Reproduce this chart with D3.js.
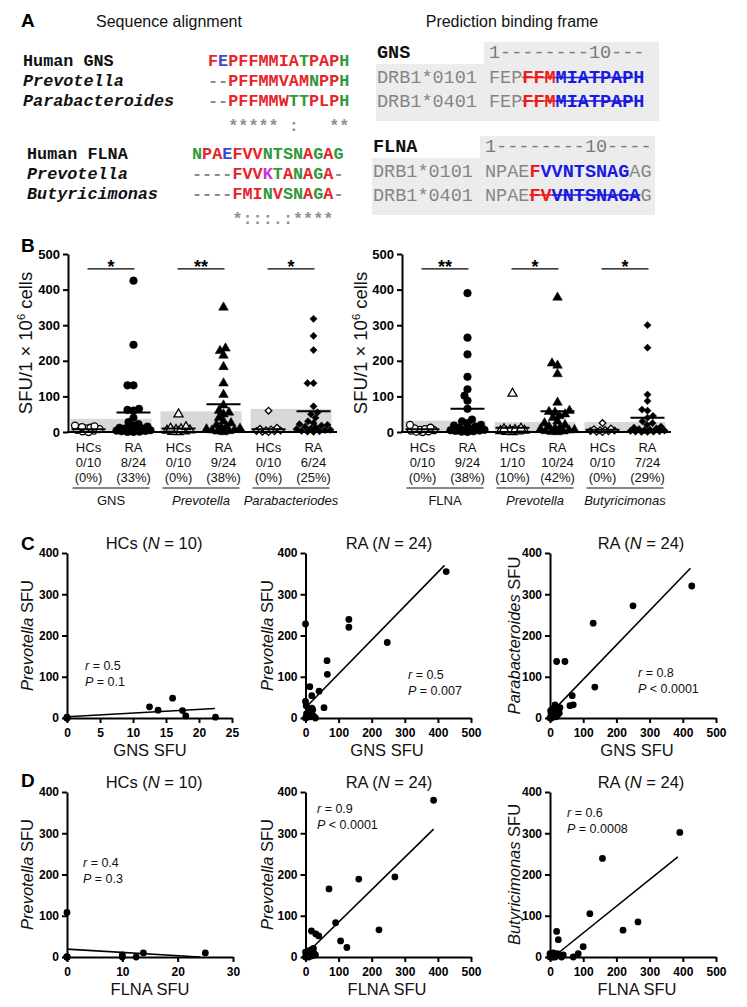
<!DOCTYPE html>
<html><head><meta charset="utf-8">
<script src="https://cdn.jsdelivr.net/npm/d3@7"></script>
<style>
body{margin:0;background:#fff;}
svg{display:block;}
</style></head><body>
<svg id="fig" width="747" height="1007"></svg>
<script>
// ================= DATA =================
// Panel A – sequence alignment
const alignGNSLabels = ["Human GNS", "Prevotella", "Parabacteroides"];
const alignGNSItalic = [false, true, true];
const alignGNSSeqs = ["FEPFFMMIATPAPH", "--PFFMMVAMNPPH", "--PFFMMWTTPLPH"];
const alignGNSCons = "  ***** :   **";
const alignFLNALabels = ["Human FLNA", "Prevotella", "Butyricimonas"];
const alignFLNAItalic = [false, true, true];
const alignFLNASeqs = ["NPAEFVVNTSNAGAG", "----FVVKTANAGA-", "----FMINVSNAGA-"];
const alignFLNACons = "    *:::.:****";
// Panel A – prediction binding frame
const frameAlleles = ["DRB1*0101", "DRB1*0401"];
const frameGNSRuler = "1--------10---";
const frameGNSSeq = "FEPFFMMIATPAPH";
const frameGNSRed = [[3, 6], [3, 6]];
const frameGNSBlue = [[6, 14], [6, 14]];
const frameGNSStrike = [[3, 13], [3, 13]];
const frameFLNARuler = "1--------10----";
const frameFLNASeq = "NPAEFVVNTSNAGAG";
const frameFLNARed = [[4, 5], [4, 6]];
const frameFLNABlue = [[5, 13], [6, 14]];
const frameFLNAStrike = [null, [4, 14]];

// Panel B – ELISpot SFU per 1e6 cells
const bLeftGroups = ["GNS", "Prevotella", "Parabacteriodes"];
const bLeftItalic = [false, true, true];
const bLeftShapes = ["circle", "triangle", "diamond"];
const bLeftHC = [
  [18, 16, 14, 12, 10, 8, 6, 4, 2, 0],
  [50, 14, 10, 8, 6, 5, 4, 2, 1, 0],
  [60, 12, 9, 7, 5, 4, 3, 2, 1, 0]
];
const bLeftRA = [
  [425, 245, 131, 131, 65, 62, 60, 40, 28, 22, 18, 15, 12, 10, 10, 8, 6, 5, 4, 3, 2, 1, 0, 0],
  [350, 235, 228, 215, 183, 137, 105, 75, 60, 55, 50, 40, 30, 25, 20, 15, 12, 10, 8, 6, 5, 3, 2, 0],
  [318, 270, 230, 137, 137, 72, 55, 50, 40, 30, 25, 22, 20, 18, 15, 12, 10, 8, 6, 5, 3, 2, 1, 0]
];
const bLeftHCMean = [8, 10, 8];
const bLeftRAMean = [55, 78, 58];
const bLeftCutoff = [37, 58, 65];
const bLeftSig = ["*", "**", "*"];
const bLeftHCFrac = ["0/10", "0/10", "0/10"];
const bLeftHCPct = ["(0%)", "(0%)", "(0%)"];
const bLeftRAFrac = ["8/24", "9/24", "6/24"];
const bLeftRAPct = ["(33%)", "(38%)", "(25%)"];

const bRightGroups = ["FLNA", "Prevotella", "Butyricimonas"];
const bRightItalic = [false, true, true];
const bRightShapes = ["circle", "triangle", "diamond"];
const bRightHC = [
  [20, 12, 10, 8, 6, 5, 4, 2, 1, 0],
  [108, 10, 8, 6, 5, 4, 3, 2, 1, 0],
  [25, 10, 8, 6, 5, 4, 3, 2, 1, 0]
];
const bRightRA = [
  [390, 265, 218, 155, 120, 102, 88, 65, 35, 30, 25, 20, 18, 15, 12, 10, 8, 6, 5, 4, 3, 2, 1, 0],
  [378, 193, 187, 163, 83, 60, 57, 55, 50, 45, 40, 30, 25, 20, 15, 12, 10, 8, 6, 5, 3, 2, 1, 0],
  [300, 237, 105, 87, 63, 60, 45, 40, 30, 25, 20, 15, 12, 10, 8, 6, 5, 4, 3, 2, 1, 1, 0, 0]
];
const bRightHCMean = [8, 12, 6];
const bRightRAMean = [65, 58, 40];
const bRightCutoff = [32, 28, 28];
const bRightSig = ["**", "*", "*"];
const bRightHCFrac = ["0/10", "1/10", "0/10"];
const bRightHCPct = ["(0%)", "(10%)", "(0%)"];
const bRightRAFrac = ["9/24", "10/24", "7/24"];
const bRightRAPct = ["(38%)", "(42%)", "(29%)"];
const bYTicks = [0, 100, 200, 300, 400, 500];

// Panels C & D – correlations [x SFU, y SFU]
const c1Pts = [[0,0],[0,0],[0,2],[0,0],[12.5,27],[13.8,19],[16,48],[17.5,18],[18,5],[22.5,2]];
const c1Fit = [[0,3],[22.4,23]];
const c2Pts = [[425,355],[0,228],[131,239],[131,220],[247,183],[65,139],[66,106],[13,76],[41,65],[19,54],[56,25],[0,40],[19,24],[8,15],[0,0],[5,2],[10,5],[15,3],[20,8],[25,4],[3,10],[30,0],[2,30],[22,20]];
const c2Fit = [[0,25],[420,370]];
const c3Pts = [[427,320],[250,272],[130,230],[135,75],[67,54],[60,30],[70,32],[15,32],[20,137],[45,137],[5,0],[10,5],[15,10],[20,15],[25,20],[8,22],[12,8],[18,3],[3,12],[0,0],[22,6],[28,12],[2,18],[30,25]];
const c3Fit = [[0,10],[423,363]];
const d1Pts = [[0,108],[0,0],[10,5],[10,0],[12.5,0],[13.8,10],[25,10],[0,0],[0,0],[0,0]];
const d1Fit = [[0,19],[24,0]];
const d2Pts = [[387,380],[71,165],[161,189],[270,194],[91,83],[222,66],[106,39],[125,23],[18,63],[31,56],[40,51],[24,21],[0,12],[5,5],[10,0],[15,8],[20,3],[25,10],[2,0],[8,15],[12,2],[30,5],[0,0],[18,18]];
const d2Fit = [[0,6],[387,310]];
const d3Pts = [[391,302],[158,239],[120,105],[265,85],[220,65],[100,25],[85,8],[70,0],[20,62],[25,42],[5,5],[10,10],[15,0],[0,0],[2,3],[8,0],[12,5],[18,2],[22,8],[30,3],[35,0],[40,5],[0,8],[5,0]];
const d3Fit = [[10,0],[385,243]];
const corrYTicks = [0, 100, 200, 300, 400];

// ================= DRAWING =================
const SANS = '"Liberation Sans", Arial, Helvetica, sans-serif';
const MONO = '"Liberation Mono", "Courier New", monospace';
const svg = d3.select("#fig");
svg.append("rect").attr("width", 747).attr("height", 1007).attr("fill", "#fff");

function clustal(c) {
  if ("AVFPMILW".includes(c)) return "#e8242a";
  if ("DE".includes(c)) return "#3a48d8";
  if ("RK".includes(c)) return "#d030d0";
  if ("STYHCNGQ".includes(c)) return "#2f9a3a";
  return "#8a8a8a";
}
function rich(g, x, y, parts, size, anchor, extra) {
  const t = g.append("text").attr("x", x).attr("y", y).attr("font-family", SANS)
    .attr("font-size", size).attr("text-anchor", anchor || "start").attr("fill", "#111");
  if (extra) extra(t);
  parts.forEach(p => t.append("tspan").attr("font-style", p[1] ? "italic" : "normal").text(p[0]));
  return t;
}
// panel letters
[["A", 21, 27], ["B", 21, 252], ["C", 21, 550], ["D", 21, 787]].forEach(d =>
  svg.append("text").attr("x", d[1]).attr("y", d[2]).attr("font-family", SANS)
    .attr("font-size", 19).attr("font-weight", "bold").text(d[0]));

// ---------- Panel A ----------
const gA = svg.append("g");
rich(gA, 169, 27, [["Sequence alignment", false]], 16, "middle");
rich(gA, 512, 27, [["Prediction binding frame", false]], 16, "middle");

function seqText(g, str, x0, y, cw, fs, colorFn, weight) {
  const t = g.append("text").attr("y", y).attr("font-family", MONO)
    .attr("font-size", fs).attr("font-weight", weight || "bold");
  str.split("").forEach((c, i) => {
    if (c === " ") return;
    t.append("tspan").attr("x", x0 + i * cw).attr("fill", colorFn(c, i)).text(c);
  });
}
const CW = 10.1, FS = 16.8;
function alignBlock(labels, italics, seqs, cons, lx, sx, y0) {
  labels.forEach((l, i) => {
    gA.append("text").attr("x", lx).attr("y", y0 + i * 20).attr("font-family", MONO)
      .attr("font-size", FS).attr("font-weight", "bold")
      .attr("font-style", italics[i] ? "italic" : "normal").attr("fill", "#111").text(l);
    seqText(gA, seqs[i], sx, y0 + i * 20, CW, FS, c => clustal(c));
  });
  seqText(gA, cons, sx, y0 + 3 * 20 + 5, CW, FS, () => "#8f8f8f");
}
alignBlock(alignGNSLabels, alignGNSItalic, alignGNSSeqs, alignGNSCons, 23, 208, 66);
alignBlock(alignFLNALabels, alignFLNAItalic, alignFLNASeqs, alignFLNACons, 27, 192, 159);

const CW2 = 11.1, FS2 = 18.5;
function frameBlock(name, ruler, seq, reds, blues, strikes, x0, top) {
  const sx = x0 + 10 * CW2 + 1;
  gA.append("rect").attr("x", sx - 5).attr("y", top).attr("width", 175).attr("height", 23).attr("fill", "#ececec");
  gA.append("rect").attr("x", x0 - 1).attr("y", top + 22).attr("width", sx - 5 + 175 - x0 + 1).attr("height", 57).attr("fill", "#ececec");
  gA.append("text").attr("x", x0).attr("y", top + 16).attr("font-family", MONO).attr("font-size", FS2)
    .attr("font-weight", "bold").attr("fill", "#111").text(name);
  seqText(gA, ruler, sx, top + 16, CW2, FS2, () => "#7a7a7a", "normal");
  frameAlleles.forEach((a, r) => {
    const y = top + 41 + r * 23.5;
    seqText(gA, a, x0, y, CW2, FS2, () => "#858585", "normal");
    const t = gA.append("text").attr("y", y).attr("font-family", MONO).attr("font-size", FS2);
    seq.split("").forEach((c, i) => {
      let col = "#858585", w = "normal";
      if (i >= reds[r][0] && i < reds[r][1]) { col = "#ee1c1c"; w = "bold"; }
      else if (i >= blues[r][0] && i < blues[r][1]) { col = "#1a1ae0"; w = "bold"; }
      t.append("tspan").attr("x", sx + i * CW2).attr("fill", col).attr("font-weight", w).text(c);
      if (strikes[r] && i >= strikes[r][0] && i < strikes[r][1]) {
        gA.append("line").attr("x1", sx + i * CW2).attr("x2", sx + (i + 1) * CW2)
          .attr("y1", y - 5.5).attr("y2", y - 5.5).attr("stroke", col).attr("stroke-width", 1.6);
      }
    });
  });
}
frameBlock("GNS", frameGNSRuler, frameGNSSeq, frameGNSRed, frameGNSBlue, frameGNSStrike, 377, 42);
frameBlock("FLNA", frameFLNARuler, frameFLNASeq, frameFLNARed, frameFLNABlue, frameFLNAStrike, 373, 136);

// ---------- Panel B ----------
function symbolPath(shape, open) {
  if (shape === "circle") return d3.symbol().type(d3.symbolCircle).size(open ? 38 : 46)();
  if (shape === "triangle") return d3.symbol().type(d3.symbolTriangle).size(open ? 36 : 40)();
  return d3.symbol().type(d3.symbolSquare).size(open ? 22 : 26)();
}
// compact beeswarm: offsets limited to +/- maxOff px around the column centre
function swarm(vals, cx, yS, minD, maxOff) {
  const pts = vals.map(v => ({ v, y: yS(v) })).sort((a, b) => a.v - b.v);
  const cands = d3.range(-maxOff, maxOff + 0.01, 0.5).sort((a, b) => Math.abs(a) - Math.abs(b));
  const placed = [];
  pts.forEach(p => {
    let bx = null, bestX = cx, bestD = -1;
    for (const off of cands) {
      const x = cx + off;
      const dmin = placed.length ? d3.min(placed, q => Math.hypot(q.x - x, q.y - p.y)) : Infinity;
      if (dmin >= minD) { bx = x; break; }
      if (dmin > bestD + 0.3) { bestD = dmin; bestX = x; }
    }
    p.x = bx === null ? bestX : bx; placed.push(p);
  });
  return pts;
}
function yLabelB(x, yc) {
  const t = svg.append("text").attr("transform", `translate(${x},${yc}) rotate(-90)`)
    .attr("text-anchor", "middle").attr("font-family", SANS).attr("font-size", 18.5).attr("fill", "#111");
  t.append("tspan").text("SFU/1 × 10");
  t.append("tspan").attr("dy", -7).attr("font-size", 11).text("6");
  t.append("tspan").attr("dy", 7).text(" cells");
}
function stripPlot(cfg) {
  const g = svg.append("g");
  const y = d3.scaleLinear().domain([0, 500]).range([432, 254]);
  const gx = d3.scaleBand().domain(cfg.groups).range([cfg.x0, cfg.x1]).paddingInner(0.1).paddingOuter(0.05);
  const sub = d3.scalePoint().domain(["HCs", "RA"]).range([-22.5, 22.5]);
  const cen = n => gx(n) + gx.bandwidth() / 2;
  g.selectAll("rect.cut").data(cfg.groups).join("rect")
    .attr("x", d => gx(d)).attr("width", gx.bandwidth())
    .attr("y", (d, i) => y(cfg.cutoff[i])).attr("height", (d, i) => y(0) - y(cfg.cutoff[i]))
    .attr("fill", "#d8d8d8");
  cfg.groups.forEach((name, i) => {
    [["HCs", cfg.hc[i], true, cfg.hcMean[i]], ["RA", cfg.ra[i], false, cfg.raMean[i]]].forEach(([k, vals, open, mean]) => {
      const cx = cen(name) + sub(k);
      const pts = swarm(vals, cx, y, 5.6, open ? 14 : 17);
      g.selectAll(null).data(pts).join("path")
        .attr("d", symbolPath(cfg.shapes[i], open))
        .attr("transform", d => `translate(${d.x},${d.y})` + (cfg.shapes[i] === "diamond" ? " rotate(45)" : ""))
        .attr("fill", open ? "#fff" : "#000").attr("stroke", "#000").attr("stroke-width", open ? 1.3 : 0.5);
      g.append("line").attr("x1", cx - 17).attr("x2", cx + 17).attr("y1", y(mean)).attr("y2", y(mean))
        .attr("stroke", "#000").attr("stroke-width", 2);
      const lab = [k, k === "HCs" ? cfg.hcFrac[i] : cfg.raFrac[i], k === "HCs" ? cfg.hcPct[i] : cfg.raPct[i]];
      lab.forEach((s, j) => g.append("text").attr("x", cx).attr("y", 452 + j * 15).attr("text-anchor", "middle")
        .attr("font-family", SANS).attr("font-size", 13).attr("fill", "#111").text(s));
    });
    const hx = cen(name) + sub("HCs"), rx = cen(name) + sub("RA");
    g.append("line").attr("x1", hx - 1).attr("x2", rx + 1).attr("y1", y(458)).attr("y2", y(458)).attr("stroke", "#000").attr("stroke-width", 1.2);
    g.append("text").attr("x", (hx + rx) / 2).attr("y", y(458) + 4).attr("text-anchor", "middle")
      .attr("font-family", SANS).attr("font-size", 18).attr("font-weight", "bold").text(cfg.sig[i]);
    g.append("line").attr("x1", gx(name) + 2).attr("x2", gx(name) + gx.bandwidth() - 2).attr("y1", 488).attr("y2", 488)
      .attr("stroke", "#111").attr("stroke-width", 1.2);
    g.append("text").attr("x", cen(name)).attr("y", 505).attr("text-anchor", "middle")
      .attr("font-family", SANS).attr("font-size", 13).attr("fill", "#111")
      .attr("font-style", cfg.italic[i] ? "italic" : "normal").text(name);
  });
  const ay = g.append("g").attr("transform", `translate(${cfg.x0 + 2},0)`)
    .call(d3.axisLeft(y).tickValues(bYTicks).tickSize(5).tickSizeOuter(0).tickPadding(3));
  ay.select(".domain").attr("stroke-width", 2);
  ay.selectAll(".tick line").attr("stroke-width", 2);
  ay.selectAll(".tick text").attr("font-family", SANS).attr("font-size", 13).attr("font-weight", "bold").attr("fill", "#000");
  g.append("line").attr("x1", cfg.x0 + 1).attr("x2", cfg.x1 + 1).attr("y1", y(0)).attr("y2", y(0))
    .attr("stroke", "#000").attr("stroke-width", 2);
}
stripPlot({ x0: 66, x1: 336, groups: bLeftGroups, italic: bLeftItalic, shapes: bLeftShapes, hc: bLeftHC, ra: bLeftRA,
  hcMean: bLeftHCMean, raMean: bLeftRAMean, cutoff: bLeftCutoff, sig: bLeftSig,
  hcFrac: bLeftHCFrac, hcPct: bLeftHCPct, raFrac: bLeftRAFrac, raPct: bLeftRAPct });
stripPlot({ x0: 400, x1: 670, groups: bRightGroups, italic: bRightItalic, shapes: bRightShapes, hc: bRightHC, ra: bRightRA,
  hcMean: bRightHCMean, raMean: bRightRAMean, cutoff: bRightCutoff, sig: bRightSig,
  hcFrac: bRightHCFrac, hcPct: bRightHCPct, raFrac: bRightRAFrac, raPct: bRightRAPct });
yLabelB(32, 343);
yLabelB(367, 343);

// ---------- Panels C & D ----------
function scatter(c) {
  const g = svg.append("g");
  const x = d3.scaleLinear().domain(c.xDomain).range(c.xRange);
  const y = d3.scaleLinear().domain([0, 400]).range(c.yRange);
  g.append("line").attr("x1", x(c.fit[0][0])).attr("y1", y(c.fit[0][1]))
    .attr("x2", x(c.fit[1][0])).attr("y2", y(c.fit[1][1])).attr("stroke", "#000").attr("stroke-width", 1.6);
  const ax = g.append("g").attr("transform", `translate(0,${c.yRange[0]})`)
    .call(d3.axisBottom(x).tickValues(c.xTicks).tickSize(5).tickSizeOuter(0).tickPadding(5));
  const ay = g.append("g").attr("transform", `translate(${c.xRange[0]},0)`)
    .call(d3.axisLeft(y).tickValues(corrYTicks).tickSize(5).tickSizeOuter(0).tickPadding(3));
  [ax, ay].forEach(a => {
    a.select(".domain").attr("stroke-width", 2);
    a.selectAll(".tick line").attr("stroke-width", 2);
    a.selectAll(".tick text").attr("font-family", SANS).attr("font-size", 12).attr("font-weight", "bold").attr("fill", "#000");
  });
  g.selectAll("circle.pt").data(c.pts).join("circle")
    .attr("cx", d => x(d[0])).attr("cy", d => y(d[1])).attr("r", 3.4).attr("fill", "#000");
  rich(g, c.titleX, c.titleY, c.title, 16.5, "middle");
  rich(g, c.xlabX, c.yRange[0] + 38, c.xlab, 16.5, "middle");
  const yc = (c.yRange[0] + c.yRange[1]) / 2;
  rich(g, 0, 0, c.ylab, 16.5, "middle", t => t.attr("transform", `translate(${c.ylabX},${yc}) rotate(-90)`));
  rich(g, c.annX, c.annY, [["r", true], [" = " + c.r, false]], 12.5);
  rich(g, c.annX, c.annY + 16, [["P", true], [c.p, false]], 12.5);
}
const yC = [718, 553], yD = [957, 792];
scatter({ xDomain: [0, 25], xTicks: [0, 5, 10, 15, 20, 25], xRange: [67, 232], yRange: yC, pts: c1Pts, fit: c1Fit,
  title: [["HCs (", false], ["N", true], [" = 10)", false]], titleX: 154, titleY: 549,
  xlab: [["GNS SFU", false]], xlabX: 150, ylab: [["Prevotella", true], [" SFU", false]], ylabX: 33,
  r: "0.5", p: " = 0.1", annX: 85, annY: 670 });
scatter({ xDomain: [0, 500], xTicks: [0, 100, 200, 300, 400, 500], xRange: [305.5, 471], yRange: yC, pts: c2Pts, fit: c2Fit,
  title: [["RA (", false], ["N", true], [" = 24)", false]], titleX: 389, titleY: 549,
  xlab: [["GNS SFU", false]], xlabX: 387, ylab: [["Prevotella", true], [" SFU", false]], ylabX: 273,
  r: "0.5", p: " = 0.007", annX: 408, annY: 679 });
scatter({ xDomain: [0, 500], xTicks: [0, 100, 200, 300, 400, 500], xRange: [550, 716], yRange: yC, pts: c3Pts, fit: c3Fit,
  title: [["RA (", false], ["N", true], [" = 24)", false]], titleX: 641, titleY: 549,
  xlab: [["GNS SFU", false]], xlabX: 637, ylab: [["Parabacteroides", true], [" SFU", false]], ylabX: 520,
  r: "0.8", p: " < 0.0001", annX: 638, annY: 677 });
scatter({ xDomain: [0, 30], xTicks: [0, 10, 20, 30], xRange: [67, 233], yRange: yD, pts: d1Pts, fit: d1Fit,
  title: [["HCs (", false], ["N", true], [" = 10)", false]], titleX: 154, titleY: 788,
  xlab: [["FLNA SFU", false]], xlabX: 150, ylab: [["Prevotella", true], [" SFU", false]], ylabX: 33,
  r: "0.4", p: " = 0.3", annX: 83, annY: 867 });
scatter({ xDomain: [0, 500], xTicks: [0, 100, 200, 300, 400, 500], xRange: [305.5, 471], yRange: yD, pts: d2Pts, fit: d2Fit,
  title: [["RA (", false], ["N", true], [" = 24)", false]], titleX: 389, titleY: 788,
  xlab: [["FLNA SFU", false]], xlabX: 387, ylab: [["Prevotella", true], [" SFU", false]], ylabX: 273,
  r: "0.9", p: " < 0.0001", annX: 317, annY: 813 });
scatter({ xDomain: [0, 500], xTicks: [0, 100, 200, 300, 400, 500], xRange: [550, 716], yRange: yD, pts: d3Pts, fit: d3Fit,
  title: [["RA (", false], ["N", true], [" = 24)", false]], titleX: 641, titleY: 788,
  xlab: [["FLNA SFU", false]], xlabX: 637, ylab: [["Butyricimonas", true], [" SFU", false]], ylabX: 520,
  r: "0.6", p: " = 0.0008", annX: 567, annY: 817 });
</script>
</body></html>
